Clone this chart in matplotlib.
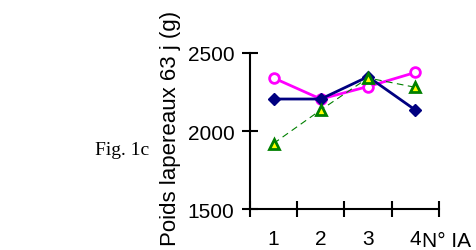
import matplotlib
matplotlib.use("Agg")
import matplotlib.pyplot as plt
from matplotlib.ticker import FixedLocator, NullFormatter

plt.rcParams['font.family'] = ['Liberation Sans', 'DejaVu Sans']

ia = [1, 2, 3, 4]
x_labels = ["1", "2", "3", "4"]
pink = [2340, 2205, 2285, 2375]
navy = [2205, 2205, 2348, 2135]
green = [1920, 2135, 2340, 2280]

fig = plt.figure(figsize=(4.76, 2.51), dpi=100)
ax = fig.add_axes([0.525, 0.163, 0.397, 0.622])

ax.plot(ia, pink, color='#FF00FF', lw=2, marker='o', ms=7, mfc='white', mec='#FF00FF', mew=2, zorder=3)
ax.plot(ia, navy, color='#000080', lw=2, marker='D', ms=6, mfc='#000080', mec='#000080', zorder=4)
ax.plot(ia, green, color='#008000', lw=0.8, ls=(0, (6, 4)), marker='^', ms=7, mfc='#FFFF00', mec='#008000', mew=2, zorder=5)

ax.set_xlim(0.5, 4.5)
ax.set_ylim(1500, 2500)
for s in ['top', 'right']:
    ax.spines[s].set_visible(False)
for s in ['left', 'bottom']:
    ax.spines[s].set_linewidth(1.5)

ax.set_yticks([1500, 2000, 2500])
ax.set_xticks([0.5, 1.5, 2.5, 3.5, 4.5])
ax.xaxis.set_major_formatter(NullFormatter())
ax.tick_params(axis='both', which='major', direction='inout', length=12, width=1.5, labelsize=15)
ax.tick_params(axis='y', pad=5)
ax.xaxis.set_minor_locator(FixedLocator(ia))
ax.set_xticklabels(x_labels, minor=True)
ax.tick_params(axis='x', which='minor', length=0, pad=14, labelsize=15)

ax.text(4.14, -0.2, "N° IA", transform=ax.get_xaxis_transform(), fontsize=15, ha='left', va='center')

fig.text(0.359, 0.49, "Poids lapereaux 63 j (g)", rotation=90, fontsize=16, ha='center', va='center')
fig.text(0.20, 0.40, "Fig. 1c", fontsize=14, fontfamily=['Liberation Serif'], ha='left', va='center')

fig.savefig("out.png", dpi=100)
